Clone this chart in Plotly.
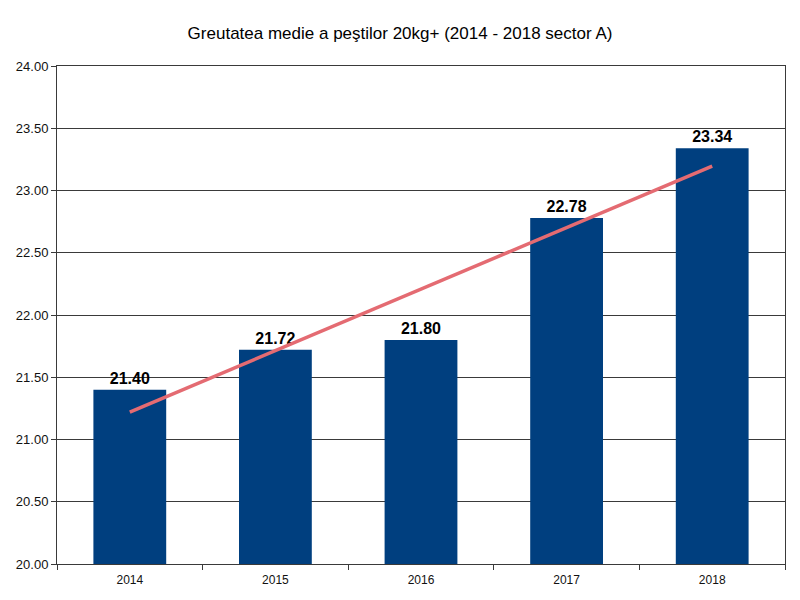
import numpy as np
import plotly.graph_objects as go

years = ["2014", "2015", "2016", "2017", "2018"]
weights = [21.40, 21.72, 21.80, 22.78, 23.34]
y_ticks = [20.0, 20.5, 21.0, 21.5, 22.0, 22.5, 23.0, 23.5, 24.0]

# linear trend line (least squares) derived from the data
idx = np.arange(len(weights))
slope, intercept = np.polyfit(idx, weights, 1)
trend = list(slope * idx + intercept)

fig = go.Figure()
fig.add_trace(go.Bar(
    x=years, y=weights,
    marker=dict(color="#003f7f", line=dict(width=0)),
    width=0.5,
    text=[f"{v:.2f}" for v in weights],
    textposition="outside",
    textfont=dict(family="Liberation Sans, Arial, sans-serif", size=16, color="#000000", weight="bold"),
    cliponaxis=False,
    showlegend=False,
))
fig.add_trace(go.Scatter(
    x=years, y=trend, mode="lines",
    line=dict(color="#e46b72", width=3.5),
    showlegend=False, hoverinfo="skip",
))

fig.update_layout(
    width=800, height=600,
    paper_bgcolor="white", plot_bgcolor="white",
    margin=dict(l=49, r=23, t=58, b=44, autoexpand=False),
    title=dict(text="Greutatea medie a peştilor 20kg+ (2014 - 2018 sector A)",
               x=0.49, xanchor="center", y=1 - 25 / 600, yanchor="middle",
               font=dict(family="Liberation Sans, Arial, sans-serif", size=17, color="#000000")),
    font=dict(family="Liberation Sans, Arial, sans-serif", color="#000000"),
    bargap=0.5,
)
fig.update_yaxes(
    range=[20, 24], tickvals=y_ticks, ticktext=[f"{v:.2f}" for v in y_ticks],
    tickfont=dict(size=13, color="#111111"), showgrid=True, gridcolor="#3a3a3a", gridwidth=1,
    showline=True, linecolor="#3a3a3a", linewidth=1, mirror=True,
    ticks="outside", ticklen=5, tickcolor="#3a3a3a", zeroline=False, automargin=False,
)
fig.update_xaxes(
    type="category", tickfont=dict(size=12, color="#111111"),
    showline=True, linecolor="#3a3a3a", linewidth=1, mirror=True,
    ticks="outside", tickson="boundaries", ticklen=5, tickcolor="#3a3a3a",
    ticklabelstandoff=5,
    showgrid=False, automargin=False,
)

fig.write_html("out.html")
